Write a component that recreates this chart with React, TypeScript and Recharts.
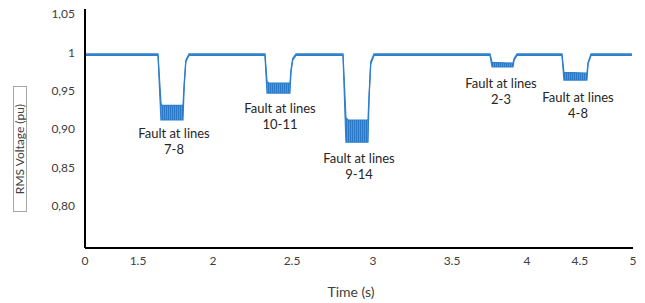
import { ComposedChart, Area, XAxis, YAxis } from "recharts";

// time in axis units (tick labels on the original axis are irregularly spaced)
const TIME = [
  0, 0.666, 0.693, 0.7, 0.894, 0.905, 0.92, 0.949,
  1.642, 1.661, 1.68, 1.87, 1.88, 1.895, 1.925,
  2.354, 2.381, 2.4, 2.582, 2.592, 2.607, 2.637,
  3.695, 3.714, 3.905, 3.915, 3.942,
  4.352, 4.37, 4.58, 4.59, 4.617, 4.99,
];
const V_LOW = [
  0.996, 0.996, 0.912, 0.912, 0.912, 0.955, 0.988, 0.996,
  0.996, 0.947, 0.947, 0.947, 0.975, 0.99, 0.996,
  0.996, 0.883, 0.883, 0.883, 0.94, 0.985, 0.996,
  0.996, 0.981, 0.981, 0.99, 0.996,
  0.996, 0.964, 0.964, 0.985, 0.996, 0.996,
];
const V_HIGH = [
  0.998, 0.998, 0.935, 0.931, 0.931, 0.96, 0.99, 0.998,
  0.998, 0.962, 0.96, 0.96, 0.978, 0.992, 0.998,
  0.998, 0.915, 0.912, 0.912, 0.945, 0.988, 0.998,
  0.998, 0.987, 0.986, 0.992, 0.998,
  0.998, 0.974, 0.973, 0.987, 0.998, 0.998,
];

const X_TICKS = [0, 0.484, 1.168, 1.889, 2.628, 3.349, 4.033, 4.516, 5];
const X_LABELS = ["0", "1.5", "2", "2.5", "3", "3.5", "4", "4.5", "5"];
const Y_TICKS = [0.8, 0.85, 0.9, 0.95, 1, 1.05];

const FAULTS = [
  { name: "7-8", x: 174, y: 133 },
  { name: "10-11", x: 280, y: 108 },
  { name: "9-14", x: 359, y: 158 },
  { name: "2-3", x: 501, y: 83 },
  { name: "4-8", x: 578, y: 97 },
];

const data = TIME.map((t, i) => ({ t, range: [V_LOW[i], V_HIGH[i]] }));

const font = "Lato, 'Open Sans', sans-serif";
const textColor = "#404040";

export default function App() {
  return (
    <div style={{ position: "absolute", left: 0, top: 0, width: 645, height: 303, fontFamily: font }}>
      <ComposedChart
        width={645}
        height={303}
        data={data}
        margin={{ top: 9, right: 12, left: 0, bottom: 0 }}
      >
        <defs>
          <pattern id="osc" width="2" height="4" patternUnits="userSpaceOnUse">
            <rect width="2" height="4" fill="#4d98da" />
            <rect width="1" height="4" fill="#2a78c6" />
          </pattern>
        </defs>
        <XAxis
          dataKey="t"
          type="number"
          domain={[0, 5]}
          ticks={X_TICKS}
          tickFormatter={(v: number) => X_LABELS[X_TICKS.indexOf(v)] ?? ""}
          axisLine={{ stroke: "#000", strokeWidth: 2 }}
          tickLine={false}
          tickSize={6}
          tickMargin={2}
          height={55}
          tick={{ fill: textColor, fontSize: 12, fontFamily: font }}
          interval={0}
        />
        <YAxis
          type="number"
          domain={[0.7453, 1.0565]}
          ticks={Y_TICKS}
          tickFormatter={(v: number) => (v === 1 ? "1" : v.toFixed(2).replace(".", ","))}
          axisLine={{ stroke: "#000", strokeWidth: 2 }}
          tickLine={false}
          tickSize={8}
          tickMargin={2}
          width={85}
          tick={{ fill: textColor, fontSize: 12, fontFamily: font }}
          interval={0}
          allowDataOverflow
        />
        <Area
          type="linear"
          dataKey="range"
          stroke="#2f7fcc"
          strokeWidth={1.2}
          fill="url(#osc)"
          fillOpacity={1}
          isAnimationActive={false}
          dot={false}
          activeDot={false}
        />
      </ComposedChart>

      <div
        style={{
          position: "absolute",
          left: 13,
          top: 86,
          width: 12,
          height: 124,
          border: "1px solid #a6a6a6",
          display: "flex",
          alignItems: "center",
          justifyContent: "center",
        }}
      >
        <span
          style={{
            writingMode: "vertical-rl",
            transform: "rotate(180deg)",
            fontSize: 12,
            color: textColor,
            whiteSpace: "nowrap",
            lineHeight: "12px",
          }}
        >
          RMS Voltage (pu)
        </span>
      </div>

      <div
        style={{
          position: "absolute",
          left: 301,
          top: 283,
          width: 100,
          textAlign: "center",
          fontSize: 14,
          color: textColor,
        }}
      >
        Time (s)
      </div>

      {FAULTS.map((f) => (
        <div
          key={f.name}
          style={{
            position: "absolute",
            left: f.x - 50,
            top: f.y - 8,
            width: 100,
            textAlign: "center",
            fontSize: 13,
            lineHeight: "16px",
            color: "#262626",
          }}
        >
          Fault at lines
          <br />
          {f.name}
        </div>
      ))}
    </div>
  );
}
